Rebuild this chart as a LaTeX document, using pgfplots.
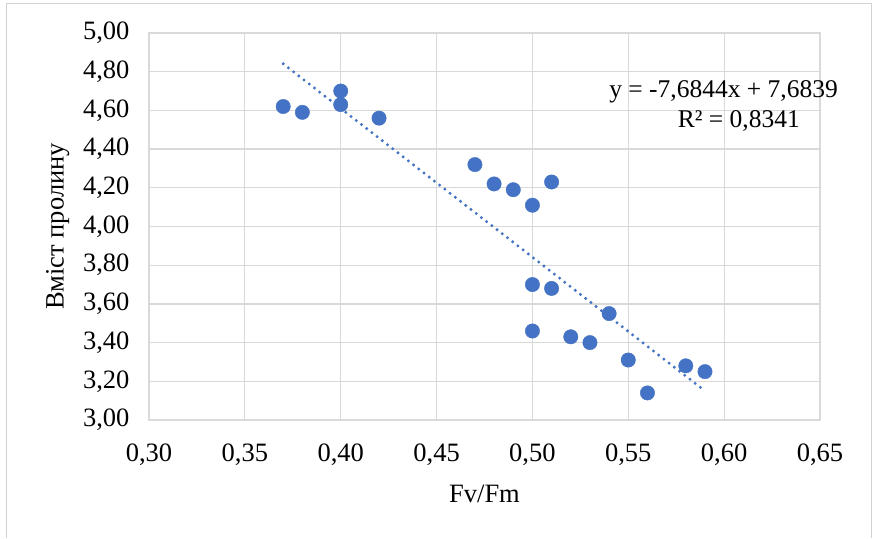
\documentclass[border=0pt]{standalone}
\usepackage{fontspec}
\setmainfont{Liberation Serif}
\usepackage{pgfplots}
\pgfplotsset{compat=1.18}
\definecolor{ptblue}{RGB}{68,114,196}
\definecolor{gridgray}{RGB}{217,217,217}
\definecolor{framegray}{RGB}{210,210,210}

\pgfplotstableread{
x y
0.37 4.62
0.38 4.59
0.40 4.70
0.40 4.63
0.42 4.56
0.47 4.32
0.48 4.22
0.49 4.19
0.50 4.11
0.51 4.23
0.50 3.70
0.51 3.68
0.54 3.55
0.50 3.46
0.52 3.43
0.53 3.40
0.55 3.31
0.58 3.28
0.59 3.25
0.56 3.14
}\pointsdata

\begin{document}
\begin{tikzpicture}[x=1pt,y=1pt]
  % page and chart frame
  \fill[white] (0,0) rectangle (872,538);
  \draw[framegray,line width=1pt] (6,0) -- (6,534) -- (871,534) -- (871,0);
  \begin{axis}[
    at={(149pt,118pt)}, anchor=south west,
    scale only axis, width=671pt, height=387pt,
    xmin=0.30, xmax=0.65, ymin=3.0, ymax=5.0,
    xtick={0.30,0.35,...,0.651}, ytick={3.0,3.2,...,5.01},
    grid=major, major grid style={gridgray,line width=1.2pt},
    axis line style={gridgray,line width=1.2pt},
    tick style={draw=none},
    /pgf/number format/assume math mode=true,
    /pgf/number format/use comma,
    /pgf/number format/fixed,
    /pgf/number format/fixed zerofill,
    /pgf/number format/precision=2,
    ticklabel style={font=\fontsize{26.5}{30}\selectfont},
    xticklabel style={yshift=-20pt},
    yticklabel style={xshift=-16pt},
    xlabel={Fv/Fm}, ylabel={Вміст пролину},
    label style={font=\fontsize{26.5}{30}\selectfont},
    xlabel style={at={(axis description cs:0.5,0)},anchor=north,yshift=-61pt},
    ylabel style={at={(axis description cs:0,0.5)},anchor=south,yshift=76pt},
    clip=false,
  ]
    \addplot[only marks, mark=*, mark size=7.2pt,
      mark options={fill=ptblue,draw=ptblue}] table[x=x,y=y] {\pointsdata};
    \addplot[ptblue, line width=3.3pt, dash pattern=on 0pt off 6.6pt, line cap=round]
      coordinates {(0.37,4.8407) (0.59,3.1501)};
    \node[anchor=base east, font=\fontsize{25.5}{29}\selectfont, inner sep=0pt]
      at (axis cs:0.6594,4.669) {y = -7,6844x + 7,6839};
    \node[anchor=base east, font=\fontsize{25.5}{29}\selectfont, inner sep=0pt]
      at (axis cs:0.6396,4.514) {R² = 0,8341};
  \end{axis}
\end{tikzpicture}
\end{document}
